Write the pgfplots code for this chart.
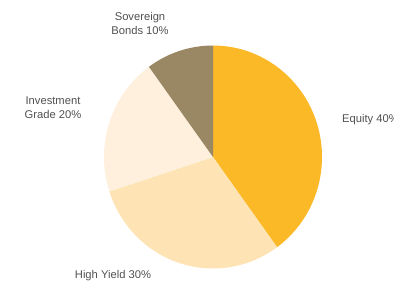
\documentclass[border=0pt]{standalone}
\usepackage{pgfplots}
\pgfplotsset{compat=1.18}
\usepackage{pgfplotstable}
\usepackage{fontspec}
\setmainfont{Liberation Sans}
\definecolor{cEq}{RGB}{251,184,39}
\definecolor{cHY}{RGB}{254,227,180}
\definecolor{cIG}{RGB}{254,240,221}
\definecolor{cSB}{RGB}{154,135,100}
\definecolor{txt}{RGB}{80,80,80}
\pgfplotstableread{
value color
40 cEq
30 cHY
20 cIG
10 cSB
}\piedata
\begin{document}
\begin{tikzpicture}
\begin{axis}[name=ax, width=394bp, height=287bp, scale only axis, hide axis,
  xmin=-213, xmax=181, ymin=-130, ymax=157, clip=false]
\def\startangle{90}
\pgfplotsforeachungrouped \i in {0,...,3} {%
  \pgfplotstablegetelem{\i}{value}\of\piedata \let\val\pgfplotsretval
  \pgfplotstablegetelem{\i}{color}\of\piedata \let\col\pgfplotsretval
  \pgfmathsetmacro\endangle{\startangle - 3.6*\val}%
  \edef\temp{\noexpand\fill[\col] (axis cs:0,0) -- (axis cs:{109*cos(\startangle)},{111.5*sin(\startangle)}) arc[start angle=\startangle, end angle=\endangle, x radius=109bp, y radius=111.5bp] -- cycle;}%
  \temp
  \global\let\startangle\endangle
}
\tikzset{lbl/.style={text=txt, font=\fontsize{11.2bp}{14bp}\selectfont, align=center, inner sep=0pt}}
\node[lbl] at (axis cs:-73,133) {Sovereign\\Bonds 10\%};
\node[lbl] at (axis cs:-160,49) {Investment\\Grade 20\%};
\node[lbl, anchor=west] at (axis cs:129,37) {Equity 40\%};
\node[lbl] at (axis cs:-100,-119) {High Yield 30\%};
\end{axis}
\pgfresetboundingbox
\path (ax.south west) rectangle (ax.north east);
\end{tikzpicture}
\end{document}
